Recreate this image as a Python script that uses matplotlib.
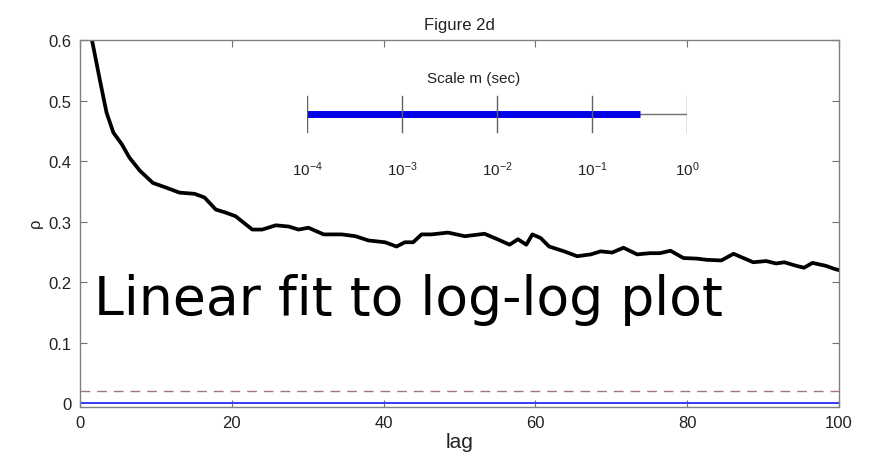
import numpy as np
import matplotlib
matplotlib.use("Agg")
import matplotlib.pyplot as plt

# autocorrelation vs lag
lag = [1.5, 2.6, 3.5, 4.4, 5.5, 6.5, 7.9, 9.6, 11.4, 13.1, 15.1, 16.4, 17.9,
       19.2, 20.5, 21.6, 22.7, 24.0, 25.8, 27.5, 28.8, 30.1, 32.1, 34.5, 36.3,
       38.0, 40.2, 41.7, 42.8, 43.9, 45.0, 46.3, 48.5, 50.7, 53.3, 55.0, 56.6,
       57.7, 58.8, 59.6, 60.7, 61.8, 63.8, 65.5, 67.3, 68.6, 70.1, 71.6, 73.4,
       75.1, 76.4, 77.8, 79.5, 81.3, 82.6, 84.5, 86.1, 87.4, 88.7, 90.4, 91.7,
       92.8, 94.4, 95.4, 96.5, 98.3, 99.4, 100.0]
rho = [0.605, 0.535, 0.480, 0.447, 0.428, 0.406, 0.384, 0.364, 0.356, 0.348,
       0.346, 0.340, 0.320, 0.315, 0.309, 0.298, 0.287, 0.287, 0.294, 0.292,
       0.287, 0.290, 0.279, 0.279, 0.276, 0.269, 0.266, 0.259, 0.266, 0.266,
       0.279, 0.279, 0.282, 0.276, 0.280, 0.271, 0.262, 0.271, 0.262, 0.279,
       0.273, 0.259, 0.251, 0.243, 0.246, 0.251, 0.249, 0.257, 0.246, 0.248,
       0.248, 0.252, 0.240, 0.239, 0.237, 0.236, 0.247, 0.240, 0.233, 0.235,
       0.231, 0.233, 0.227, 0.224, 0.232, 0.227, 0.222, 0.220]

zero_level = 0.0
conf_level = 0.021

xticks = [0, 20, 40, 60, 80, 100]
yticks = [0, 0.1, 0.2, 0.3, 0.4, 0.5, 0.6]
ytick_labels = ["0", "0.1", "0.2", "0.3", "0.4", "0.5", "0.6"]

# scale bar
scale_ticks = [1e-4, 1e-3, 1e-2, 1e-1, 1e0]
scale_labels = [r"$10^{-4}$", r"$10^{-3}$", r"$10^{-2}$", r"$10^{-1}$", r"$10^{0}$"]
scale_fit_max = 10 ** -0.5

plt.rcParams["font.family"] = ["Liberation Sans", "DejaVu Sans"]
plt.rcParams["mathtext.fontset"] = "custom"
plt.rcParams["mathtext.rm"] = "Liberation Sans"
plt.rcParams["mathtext.it"] = "Liberation Sans"

fig = plt.figure(figsize=(8.88, 4.6), dpi=100)
ax = fig.add_axes([80 / 888, 1 - 408 / 460, (839 - 80) / 888, (408 - 41) / 460])

ax.plot(lag, rho, color="black", lw=2.7, solid_joinstyle="round", clip_on=True)
ax.axhline(zero_level, color="#3a3aff", lw=1.4)
ax.axhline(conf_level, color="#a07878", lw=1.0, dashes=(7, 5))

ax.set_xlim(0, 100)
ax.set_ylim(-0.006, 0.6)
ax.set_xticks(xticks)
ax.set_yticks(yticks)
ax.set_yticklabels(ytick_labels)
ax.tick_params(direction="in", length=5, top=True, right=True, color="#707070",
               labelsize=12, labelcolor="#222222", pad=6)
for sp in ax.spines.values():
    sp.set_color("#808080")
    sp.set_linewidth(1.0)

ax.set_xlabel("lag", fontsize=15, labelpad=1, color="#222222")
ax.set_ylabel(r"$\rho$", fontsize=12, labelpad=2, color="#222222")
ax.set_title("Figure 2d", fontsize=12, pad=8, color="#222222")

ax.text(1.9, 0.147, "Linear fit to log-log plot", fontsize=38.6,
        family="DejaVu Sans", color="black", va="baseline", ha="left")

# inset scale bar, log axis in seconds
ins = fig.add_axes([307 / 888, 1 - 140 / 460, (687 - 307) / 888, 50 / 460])
ins.set_xscale("log")
ins.set_xlim(scale_ticks[0], scale_ticks[-1])
ins.set_ylim(-1, 1)
ins.axis("off")
ins.plot([scale_ticks[0], scale_ticks[-1]], [0, 0], color="#707070", lw=1.0)
ins.plot([scale_ticks[0], scale_fit_max], [0, 0], color="#0000e6", lw=5,
         solid_capstyle="butt")
for t, lab in zip(scale_ticks, scale_labels):
    ins.plot([t, t], [-0.72, 0.72], color="#606060", lw=1.0)
    ins.text(t, -2.2, lab, ha="center", va="center", fontsize=11,
             color="#222222", clip_on=False)
ins.text(10 ** -2.25, 1.45, "Scale m (sec)", ha="center", va="center",
         fontsize=11, color="#222222", clip_on=False)

fig.savefig("out.png", dpi=100)
